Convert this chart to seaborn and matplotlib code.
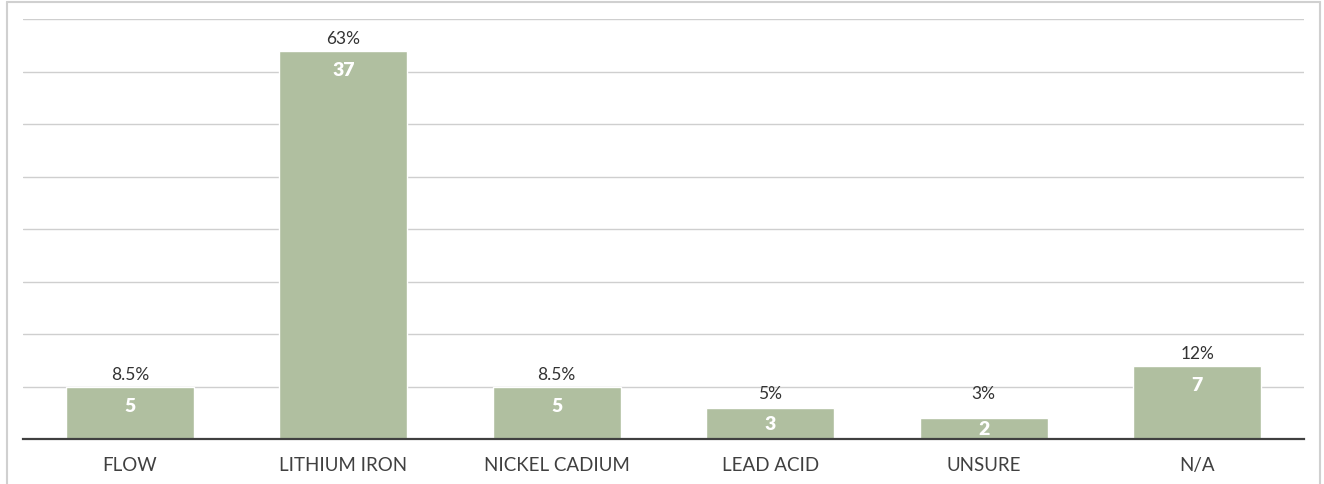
import matplotlib
matplotlib.use("Agg")
import matplotlib.pyplot as plt
from matplotlib.lines import Line2D
import seaborn as sns
import pandas as pd

# Battery chemistry survey responses
categories = ["FLOW", "LITHIUM IRON", "NICKEL CADIUM", "LEAD ACID", "UNSURE", "N/A"]
counts = [5, 37, 5, 3, 2, 7]
shares = ["8.5%", "63%", "8.5%", "5%", "3%", "12%"]

sns.set_theme(style="white")
plt.rcParams["font.family"] = ["Lato", "DejaVu Sans"]

BAR = "#b0bfa0"
df = pd.DataFrame({"category": categories, "count": counts})

fig = plt.figure(figsize=(13.24, 4.85), dpi=100)
ax = fig.add_axes([23 / 1324, 45 / 485, 1281 / 1324, 420 / 485])

sns.barplot(data=df, x="category", y="count", color=BAR, saturation=1,
            width=0.6, ax=ax, zorder=2)

ax.set_ylim(0, 40)
ax.set_xlim(-0.5, len(categories) - 0.5)
ax.set_yticks(range(0, 41, 5))
ax.yaxis.grid(True, color="#cfcfcf", linewidth=1.0, zorder=0)
ax.set_axisbelow(True)
ax.set_yticklabels([])
ax.tick_params(axis="y", length=0)
ax.tick_params(axis="x", length=0, pad=12.5, labelsize=13.5, labelcolor="#404040")
ax.set_xlabel("")
ax.set_ylabel("")
for side in ("left", "right", "top"):
    ax.spines[side].set_visible(False)
ax.spines["bottom"].set_color("#404040")
ax.spines["bottom"].set_linewidth(1.6)
ax.spines["bottom"].set_zorder(3)

for i, (v, s) in enumerate(zip(counts, shares)):
    # share label above the bar, count label inside near its top
    ax.text(i, max(v, 3.2) + 1.2, s, ha="center", va="center",
            fontsize=12.5, color="#333333", zorder=4)
    ax.text(i, max(v - 1.8, v / 2), str(v), ha="center", va="center",
            fontsize=14, fontweight="heavy", color="white", zorder=4)

# light outer frame
frame = dict(color="#d0d0d0", linewidth=1.5, transform=fig.transFigure)
fig.add_artist(Line2D([7 / 1324, 7 / 1324], [0, 1 - 3 / 485], **frame))
fig.add_artist(Line2D([7 / 1324, 1320 / 1324], [1 - 3 / 485, 1 - 3 / 485], **frame))
fig.add_artist(Line2D([1320 / 1324, 1320 / 1324], [0, 1 - 3 / 485], **frame))

fig.savefig("out.png", dpi=100)
